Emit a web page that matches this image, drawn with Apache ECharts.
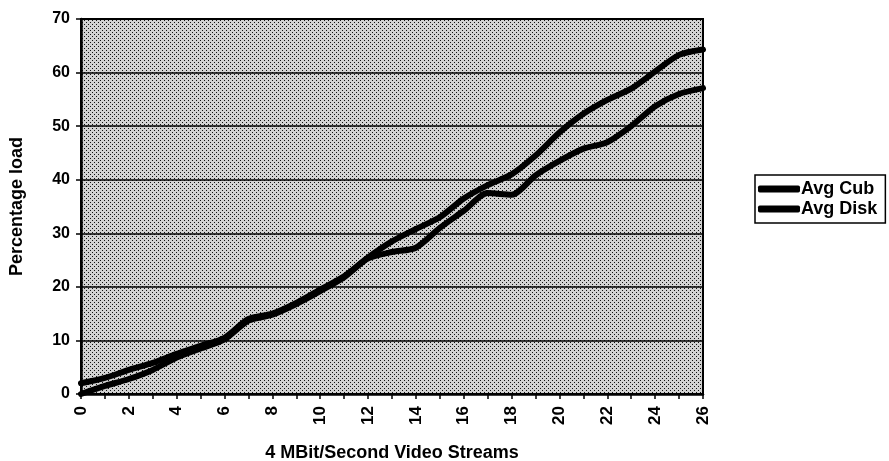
<!DOCTYPE html>
<html>
<head>
<meta charset="utf-8">
<script src="https://cdn.jsdelivr.net/npm/echarts@6/dist/echarts.min.js"></script>
<style>
html,body{margin:0;padding:0;background:#fff;}
#chart{width:889px;height:461px;}
</style>
</head>
<body>
<div id="chart"></div>
<script>
// ---- data ----
const streams = [0,1,2,3,4,5,6,7,8,9,10,11,12,13,14,15,16,17,18,19,20,21,22,23,24,25,26];
const avgCub  = [2,3,4.5,5.8,7.5,9,10.5,14,15,17,19.5,22,25.5,28.5,30.8,33,36.5,39,41,44.5,48.8,52.3,54.9,57,60.2,63.3,64.3];
const avgDisk = [0,1.5,2.8,4.5,6.8,8.5,10.2,13.7,14.8,16.8,19.2,21.8,25.3,26.5,27.3,31,34.2,37.5,37.2,40.8,43.5,45.8,47,50,53.7,56,57.1];
const yTicks = [0,10,20,30,40,50,60,70];
const seriesNames = ['Avg Cub','Avg Disk'];

// stipple pattern for plot background
const tile = document.createElement('canvas');
tile.width = 4; tile.height = 4;
const tc = tile.getContext('2d');
tc.fillStyle = '#d2d2d2'; tc.fillRect(0,0,4,4);
tc.fillStyle = '#111'; tc.fillRect(0,0,1,1); tc.fillRect(2,2,1,1);

const chart = echarts.init(document.getElementById('chart'), null, {renderer:'canvas'});
const font = 'Liberation Sans, Arial, sans-serif';
chart.setOption({
  animation:false,
  backgroundColor:'#fff',
  grid:{left:81,right:186,top:19,bottom:67,show:true,containLabel:false,outerBoundsMode:'none',
        backgroundColor:{image:tile,repeat:'repeat'},
        borderColor:'#000',borderWidth:2},
  legend:{
    orient:'vertical', left:755, top:175,
    data:seriesNames,
    icon:'roundRect', itemWidth:42, itemHeight:7, itemGap:2,
    padding:[5,8,5,3],
    borderColor:'#000', borderWidth:1.5, backgroundColor:'#fff',
    textStyle:{fontFamily:font,fontSize:18,fontWeight:'bold',color:'#000',padding:[0,0,0,-4]}
  },
  xAxis:{
    type:'value', min:0, max:26, interval:1,
    name:'4 MBit/Second Video Streams', nameLocation:'middle', nameGap:50,
    nameTextStyle:{fontFamily:font,fontSize:18,fontWeight:'bold',color:'#000'},
    axisLine:{show:true,lineStyle:{color:'#000',width:2.5}},
    axisTick:{show:true,length:5,lineStyle:{color:'#000',width:1.5}},
    splitLine:{show:false},
    axisLabel:{rotate:90,margin:12,fontFamily:font,fontSize:17,fontWeight:'bold',color:'#000',
      formatter:function(v){return v%2===0?String(v):'';}}
  },
  yAxis:{
    type:'value', min:yTicks[0], max:yTicks[yTicks.length-1], interval:10,
    name:'Percentage load', nameLocation:'middle', nameGap:55,
    nameTextStyle:{fontFamily:font,fontSize:18,fontWeight:'bold',color:'#000'},
    axisLine:{show:true,lineStyle:{color:'#000',width:2.5}},
    axisTick:{show:true,length:5,lineStyle:{color:'#000',width:1.5}},
    splitLine:{show:true,lineStyle:{color:'#000',width:1.5}},
    axisLabel:{margin:11,fontFamily:font,fontSize:16,fontWeight:'bold',color:'#000'}
  },
  series:[
    {name:seriesNames[0],type:'line',showSymbol:false,symbol:'none',smooth:0.25,
     color:'#000',lineStyle:{color:'#000',width:6,cap:'round',join:'round'},
     data:streams.map((x,i)=>[x,avgCub[i]])},
    {name:seriesNames[1],type:'line',showSymbol:false,symbol:'none',smooth:0.25,
     color:'#000',lineStyle:{color:'#000',width:6,cap:'round',join:'round'},
     data:streams.map((x,i)=>[x,avgDisk[i]])}
  ]
});
</script>
</body>
</html>
